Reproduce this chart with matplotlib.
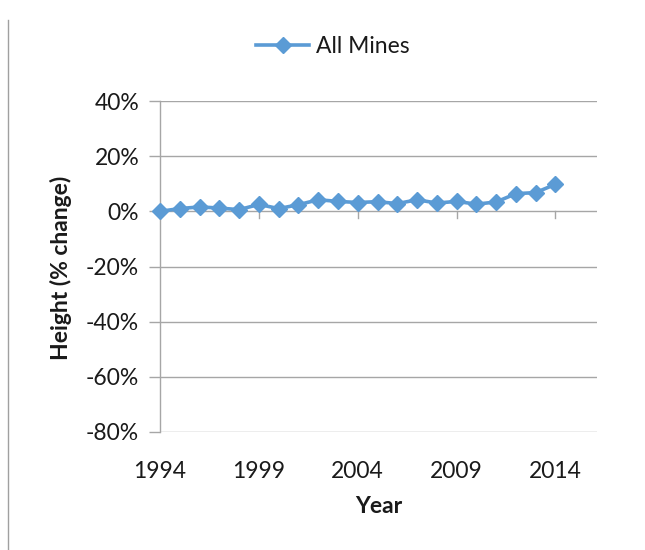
import matplotlib
matplotlib.use("Agg")
import matplotlib.pyplot as plt
from matplotlib.lines import Line2D

years = list(range(1994, 2015))
all_mines = [0.0, 1.0, 1.6, 1.2, 0.6, 2.5, 1.0, 2.4, 4.2, 3.6, 3.2,
             3.5, 2.8, 4.2, 3.0, 3.6, 2.6, 3.4, 6.4, 6.8, 9.8]
y_ticks = [40, 20, 0, -20, -40, -60, -80]
x_ticks = [1994, 1999, 2004, 2009, 2014]

plt.rcParams['font.family'] = ['Lato', 'DejaVu Sans']

fig = plt.figure(figsize=(6.45, 5.5), dpi=100)
ax = fig.add_axes([160/645, 1-432/550, (597-160)/645, (432-101)/550])

color = '#5B9BD5'
grid_c = '#A6A6A6'
txt_c = '#1a1a1a'
fs = 16.5

ax.plot(years, all_mines, color=color, lw=2.6, marker='D', markersize=8,
        markeredgecolor=color, markerfacecolor=color, zorder=5, clip_on=False)

ax.set_xlim(1994, 2016.1)
ax.set_ylim(-80, 40)

for yv in y_ticks:
    if yv != 0:
        ax.axhline(yv, color=grid_c, lw=1.0, zorder=1)

for s in ['top', 'right', 'bottom']:
    ax.spines[s].set_visible(False)
ax.spines['left'].set_color(grid_c)
ax.spines['left'].set_linewidth(1.0)

ax.axhline(0, color=grid_c, lw=1.0, zorder=2)
for xv in x_ticks:
    ax.plot([xv, xv], [0, -2.5], color=grid_c, lw=1.0, zorder=2, clip_on=False)

ax.set_yticks(y_ticks)
ax.set_yticklabels([f"{v}%" for v in y_ticks])
ax.tick_params(axis='y', length=8, color=grid_c, width=1.0, labelsize=fs,
               pad=7, labelcolor=txt_c)
ax.set_xticks(x_ticks)
ax.set_xticklabels([str(v) for v in x_ticks])
ax.tick_params(axis='x', length=0, labelsize=fs, pad=21, labelcolor=txt_c)

ax.set_xlabel('Year', fontsize=fs, fontweight='bold', labelpad=10, color=txt_c)
ax.set_ylabel('Height (% change)', fontsize=fs, fontweight='bold', color=txt_c)
ax.yaxis.set_label_coords((72 - 160) / 437, (432 - 268) / 331)

handle = Line2D([], [], color=color, lw=2.6, marker='D', markersize=8,
                markeredgecolor=color)
fig.legend([handle], ['All Mines'], loc='center', bbox_to_anchor=(333/645, 1-47/550),
           frameon=False, fontsize=fs, handlelength=2.3, handletextpad=0.3,
           labelcolor=txt_c)

fig.add_artist(Line2D([8/645, 8/645], [0, 1-20/550], color='#A0A0A0', lw=1.0))

fig.savefig('out.png', dpi=100)
